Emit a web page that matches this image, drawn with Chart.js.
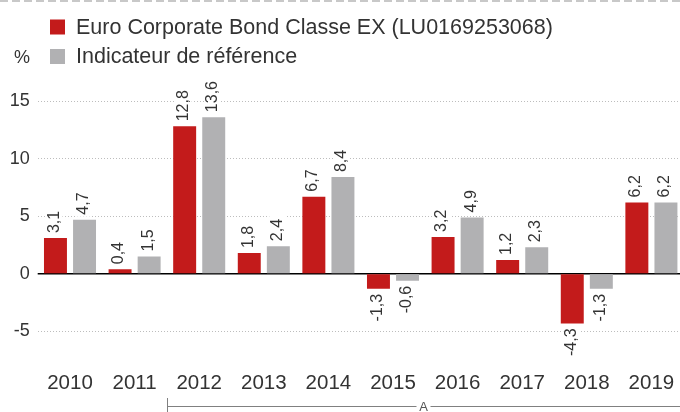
<!DOCTYPE html>
<html lang="fr">
  <head>
    <meta charset="UTF-8" />
    <title>Euro Corporate Bond Classe EX</title>
    <script src="https://cdn.jsdelivr.net/npm/chart.js@4.4.1/dist/chart.umd.min.js"></script>
    <style>
      html,
      body {
        margin: 0;
        padding: 0;
        background: #fff;
      }
    </style>
  </head>
  <body>
    <canvas id="chart" width="680" height="412"></canvas>
    <script>
      // données
      const years = ["2010", "2011", "2012", "2013", "2014", "2015", "2016", "2017", "2018", "2019"];
      const fundValues = [3.1, 0.4, 12.8, 1.8, 6.7, -1.3, 3.2, 1.2, -4.3, 6.2];
      const benchmarkValues = [4.7, 1.5, 13.6, 2.4, 8.4, -0.6, 4.9, 2.3, -1.3, 6.2];
      const yTicks = [-5, 0, 5, 10, 15];
      const seriesNames = ["Euro Corporate Bond Classe EX (LU0169253068)", "Indicateur de référence"];
      const unitLabel = "%";
      const periodLabel = "A";
      const periodStart = "2012";

      const FONT = '"Liberation Sans", Arial, sans-serif';
      const RED = "#c31b1b";
      const GREY = "#b1b1b3";
      const TEXT = "#333333";

      // zone de tracé : le graphique d'origine déborde un peu à droite
      const PLOT_LEFT = 37.7;
      const PLOT_RIGHT = 683.7;

      const fmt = (v) => v.toFixed(1).replace(".", ",");

      const stretchX = {
        id: "stretchX",
        afterLayout(chart) {
          const x = chart.scales.x;
          x.left = PLOT_LEFT;
          x.right = PLOT_RIGHT;
          x.width = PLOT_RIGHT - PLOT_LEFT;
          x.configure();
          chart.chartArea.right = PLOT_RIGHT;
          chart.chartArea.width = PLOT_RIGHT - chart.chartArea.left;
        },
      };

      // légende, ligne pointillée du haut, axe zéro, accolade "A"
      const decor = {
        id: "decor",
        beforeDatasetsDraw(chart) {
          const { ctx, chartArea } = chart;
          const y0 = chart.scales.y.getPixelForValue(0);
          ctx.save();
          ctx.strokeStyle = "#000";
          ctx.lineWidth = 1.5;
          ctx.beginPath();
          ctx.moveTo(chartArea.left, y0);
          ctx.lineTo(chart.width, y0);
          ctx.stroke();
          ctx.restore();
        },
        afterDraw(chart) {
          const { ctx } = chart;
          ctx.save();

          ctx.strokeStyle = "#c8c8c8";
          ctx.lineWidth = 2;
          ctx.setLineDash([8, 4]);
          ctx.beginPath();
          ctx.moveTo(0, 1);
          ctx.lineTo(chart.width, 1);
          ctx.stroke();
          ctx.setLineDash([]);

          ctx.font = "21.5px " + FONT;
          ctx.textBaseline = "middle";
          ctx.textAlign = "left";
          [RED, GREY].forEach((c, i) => {
            const y = 28 + i * 29.5;
            ctx.fillStyle = c;
            ctx.fillRect(50, y - 8.5, 15, 15);
            ctx.fillStyle = TEXT;
            ctx.fillText(seriesNames[i], 76, y);
          });
          ctx.font = "18px " + FONT;
          ctx.fillText(unitLabel, 14, 58);

          const x = chart.scales.x;
          const idx = years.indexOf(periodStart);
          const half = (x.getPixelForValue(1) - x.getPixelForValue(0)) / 2;
          const xs = Math.round(x.getPixelForValue(idx) - half);
          const xe = chart.width;
          const yl = 406.5;
          const xm = (xs + xe) / 2;
          ctx.strokeStyle = "#808080";
          ctx.lineWidth = 1;
          ctx.beginPath();
          ctx.moveTo(xs + 0.5, 398);
          ctx.lineTo(xs + 0.5, 412);
          ctx.moveTo(xs, yl);
          ctx.lineTo(xm - 7, yl);
          ctx.moveTo(xm + 7, yl);
          ctx.lineTo(xe, yl);
          ctx.stroke();
          ctx.fillStyle = "#555";
          ctx.font = "13px " + FONT;
          ctx.textAlign = "center";
          ctx.fillText(periodLabel, xm, 407.5);
          ctx.restore();
        },
      };

      // étiquettes verticales au-dessus / au-dessous des barres
      const barLabels = {
        id: "barLabels",
        afterDatasetsDraw(chart) {
          const { ctx } = chart;
          ctx.save();
          ctx.font = "16px " + FONT;
          ctx.textBaseline = "middle";
          chart.data.datasets.forEach((ds, i) => {
            chart.getDatasetMeta(i).data.forEach((bar, j) => {
              const v = ds.data[j];
              const txt = fmt(v);
              const w = ctx.measureText(txt).width;
              const gap = 5;
              ctx.save();
              if (v >= 0) {
                ctx.translate(bar.x - 1, bar.y - gap);
                ctx.rotate(-Math.PI / 2);
                ctx.fillStyle = "#fff";
                ctx.fillRect(-2, -8, w + 5, 16);
                ctx.textAlign = "left";
              } else {
                ctx.translate(bar.x - 1, bar.y + gap);
                ctx.rotate(-Math.PI / 2);
                ctx.fillStyle = "#fff";
                ctx.fillRect(-w - 3, -8, w + 5, 16);
                ctx.textAlign = "right";
              }
              ctx.fillStyle = TEXT;
              ctx.fillText(txt, 0, 0);
              ctx.restore();
            });
          });
          ctx.restore();
        },
      };

      new Chart(document.getElementById("chart"), {
        type: "bar",
        data: {
          labels: years,
          datasets: [
            {
              label: seriesNames[0],
              data: fundValues,
              backgroundColor: RED,
              categoryPercentage: 0.9,
              barPercentage: 0.79,
            },
            {
              label: seriesNames[1],
              data: benchmarkValues,
              backgroundColor: GREY,
              categoryPercentage: 0.9,
              barPercentage: 0.79,
            },
          ],
        },
        options: {
          responsive: false,
          animation: false,
          layout: { padding: { top: 101, right: 0, bottom: 0, left: 0 } },
          plugins: {
            legend: { display: false },
            tooltip: { enabled: false },
          },
          scales: {
            x: {
              grid: { display: false },
              border: { display: false },
              ticks: {
                color: TEXT,
                font: { size: 20.5, family: FONT },
                padding: 9,
                maxRotation: 0,
              },
              afterFit: (s) => {
                s.height = 57.5;
              },
            },
            y: {
              min: -7,
              max: 15,
              afterBuildTicks: (s) => {
                s.ticks = yTicks.map((v) => ({ value: v }));
              },
              grid: {
                color: (c) => (c.tick && c.tick.value === 0 ? "rgba(0,0,0,0)" : "#bdbdbd"),
                lineWidth: 1,
                drawTicks: false,
              },
              border: { display: false, dash: [1, 2] },
              ticks: {
                color: TEXT,
                font: { size: 18, family: FONT },
                padding: 8,
                callback: (v) => String(v),
              },
              afterFit: (s) => {
                s.width = PLOT_LEFT;
              },
            },
          },
        },
        plugins: [stretchX, decor, barLabels],
      });
    </script>
  </body>
</html>
